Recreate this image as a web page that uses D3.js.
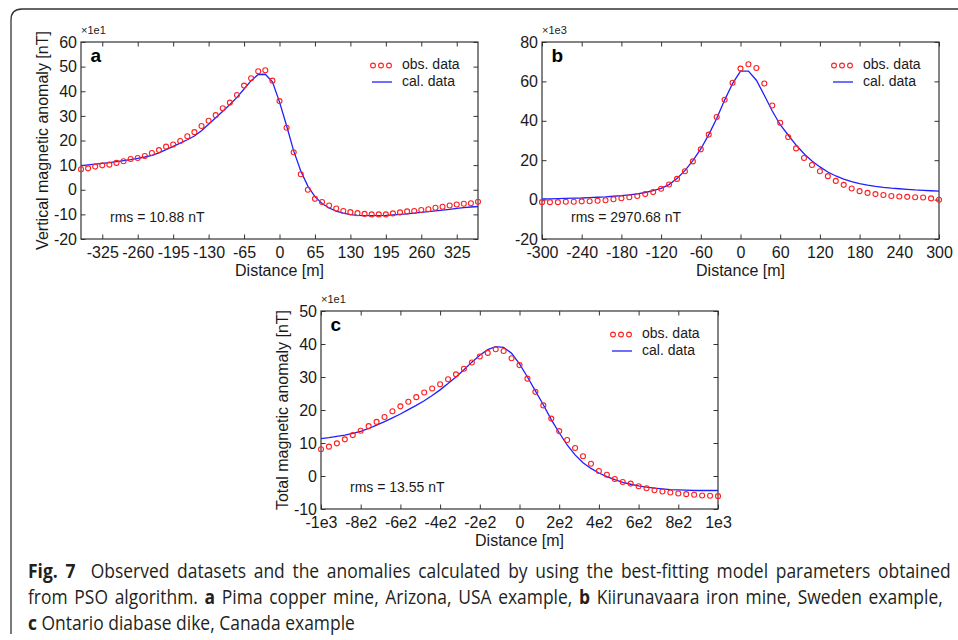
<!DOCTYPE html>
<html><head><meta charset="utf-8">
<script src="https://cdn.jsdelivr.net/npm/d3@7"></script>
<style>body{margin:0;background:#fff}svg{display:block}</style>
</head><body>
<svg id="fig" width="958" height="640"></svg>
<script>
// ---------- Panel a : Pima copper mine ----------
const aDist = [-364,-351,-338,-325,-312,-299,-286,-273,-260,-247,-234,-221,-208,-195,-182,-169,-156,-143,-130,-117,-104,-91,-78,-65,-52,-39,-26,-13,0,13,26,39,52,65,78,91,104,117,130,143,156,169,182,195,208,221,234,247,260,273,286,299,312,325,338,351,364];
const aObs = [8.3,8.7,9.4,9.9,10.2,10.9,11.6,12.5,12.9,13.7,14.9,16.1,17.5,18.4,19.8,21.7,23.4,25.9,28.0,30.3,33.1,35.4,38.5,42.3,45.3,48.1,48.5,44.3,36.0,25.2,15.2,6.3,0.0,-3.7,-5.0,-6.4,-7.6,-8.6,-9.1,-9.5,-9.8,-10.0,-10.0,-10.0,-9.6,-9.2,-8.8,-8.6,-8.2,-7.9,-7.3,-6.9,-6.4,-6.0,-5.7,-5.5,-4.9];
const aCal = [9.8,10.1,10.4,10.7,11.0,11.4,11.8,12.2,12.7,13.3,14.0,15.0,16.3,17.6,18.9,20.3,21.8,24.0,26.6,29.2,31.9,34.6,37.5,40.9,44.3,46.8,46.9,43.8,35.7,26.0,15.8,7.6,1.5,-2.8,-5.6,-7.4,-8.7,-9.5,-10.1,-10.4,-10.5,-10.5,-10.5,-10.4,-10.2,-10.0,-9.8,-9.5,-9.2,-8.9,-8.6,-8.3,-8.0,-7.6,-7.3,-7.0,-6.8];
const aXTicks = [-325,-260,-195,-130,-65,0,65,130,195,260,325];
const aXLabels = ["-325","-260","-195","-130","-65","0","65","130","195","260","325"];
const aYTicks = [-20,-10,0,10,20,30,40,50,60];
const aYLabels = ["-20","-10","0","10","20","30","40","50","60"];

// ---------- Panel b : Kiirunavaara iron mine ----------
const bDist = [-300,-288,-276,-264,-252,-240,-228,-216,-204,-192,-180,-168,-156,-144,-132,-120,-108,-96,-84,-72,-60,-48,-36,-24,-12,0,12,24,36,48,60,72,84,96,108,120,132,144,156,168,180,192,204,216,228,240,252,264,276,288,300];
const bObs = [-1.3,-1.3,-1.3,-1.1,-1.1,-0.9,-0.8,-0.6,-0.3,0.2,0.7,1.2,1.8,2.8,3.8,5.5,7.7,10.5,14.4,19.4,25.5,33.0,41.9,50.7,59.3,66.5,68.7,66.8,58.9,47.8,39.0,31.8,26.0,21.1,17.6,14.4,11.9,9.5,7.5,5.6,4.3,3.4,2.8,2.3,1.8,1.6,1.4,1.2,1.1,0.6,-0.1];
const bCal = [0.3,0.4,0.5,0.6,0.7,0.8,1.0,1.2,1.4,1.7,2.0,2.4,2.9,3.6,4.5,5.7,7.6,10.7,14.7,19.8,25.7,33.0,41.2,50.5,58.9,65.2,65.2,60.6,53.0,45.0,38.0,32.8,27.7,23.3,19.6,16.6,14.0,12.0,10.4,9.1,8.1,7.3,6.7,6.2,5.8,5.5,5.2,4.9,4.7,4.5,4.3];
const bXTicks = [-300,-240,-180,-120,-60,0,60,120,180,240,300];
const bXLabels = ["-300","-240","-180","-120","-60","0","60","120","180","240","300"];
const bYTicks = [-20,0,20,40,60,80];
const bYLabels = ["-20","0","20","40","60","80"];

// ---------- Panel c : Ontario diabase dike ----------
const cDist = [-1000,-960,-920,-880,-840,-800,-760,-720,-680,-640,-600,-560,-520,-480,-440,-400,-360,-320,-280,-240,-200,-160,-120,-80,-40,0,40,80,120,160,200,240,280,320,360,400,440,480,520,560,600,640,680,720,760,800,840,880,920,960,1000];
const cObs = [8.1,8.9,9.9,11.1,12.4,13.7,15.1,16.4,17.9,19.6,21.1,22.5,23.9,25.3,26.5,27.8,29.3,30.8,32.5,34.4,36.2,37.3,38.4,37.9,35.7,33.6,29.5,25.5,21.4,17.4,13.6,10.9,8.5,6.0,3.7,1.5,0.4,-0.9,-1.8,-2.3,-3.1,-3.7,-4.3,-4.7,-5.0,-5.3,-5.5,-5.7,-5.9,-6.0,-6.1];
const cCal = [11.3,11.6,12.0,12.4,12.9,13.5,14.4,15.4,16.5,17.6,18.8,20.1,21.4,22.8,24.4,26.1,28.0,30.0,32.2,34.5,36.6,38.3,39.2,39.0,37.2,34.0,30.0,25.8,21.6,17.1,13.1,9.4,6.4,4.0,2.3,0.9,-0.2,-1.1,-1.9,-2.5,-3.0,-3.4,-3.7,-3.9,-4.1,-4.2,-4.3,-4.4,-4.4,-4.4,-4.4];
const cXTicks = [-1000,-800,-600,-400,-200,0,200,400,600,800,1000];
const cXLabels = ["-1e3","-8e2","-6e2","-4e2","-2e2","0","2e2","4e2","6e2","8e2","1e3"];
const cYTicks = [-10,0,10,20,30,40,50];
const cYLabels = ["-10","0","10","20","30","40","50"];

const legendLabels = ["obs. data","cal. data"];

const panels = [
  {key:"a", dist:aDist, obs:aObs, cal:aCal, xDom:[-364,364], yDom:[-20,60], xT:aXTicks, xL:aXLabels, yT:aYTicks, yL:aYLabels,
   exp:"×1e1", rms:"rms = 10.88 nT", ylab:"Vertical magnetic anomaly [nT]", box:{l:81,t:42,r:478,b:239}},
  {key:"b", dist:bDist, obs:bObs, cal:bCal, xDom:[-300,300], yDom:[-20,80], xT:bXTicks, xL:bXLabels, yT:bYTicks, yL:bYLabels,
   exp:"×1e3", rms:"rms = 2970.68 nT", ylab:null, box:{l:542,t:42,r:939,b:239}},
  {key:"c", dist:cDist, obs:cObs, cal:cCal, xDom:[-1000,1000], yDom:[-10,50], xT:cXTicks, xL:cXLabels, yT:cYTicks, yL:cYLabels,
   exp:"×1e1", rms:"rms = 13.55 nT", ylab:"Total magnetic anomaly [nT]", box:{l:321,t:311,r:718,b:509}}
];

const svg = d3.select("#fig");
const FONT = "'Liberation Sans', Arial, Helvetica, sans-serif";
const INK = "#1a1a1a";
const RED = "#ff2020";
const BLUE = "#2020ff";

// outer frame
svg.append("path")
  .attr("d","M11,634 L11,20 Q11,9 22,9 L962,9")
  .attr("fill","none").attr("stroke","#333").attr("stroke-width",1.3);

panels.forEach(p => {
  const {l,t,r,b} = p.box;
  const x = d3.scaleLinear().domain(p.xDom).range([l,r]);
  const y = d3.scaleLinear().domain(p.yDom).range([b,t]);
  const g = svg.append("g");

  const styleAxis = sel => {
    sel.attr("font-family",FONT).attr("font-size",16);
    sel.select(".domain").remove();
    sel.selectAll(".tick line").attr("stroke","#333").attr("stroke-width",1);
    sel.selectAll(".tick text").attr("fill",INK);
  };

  g.append("g").attr("transform",`translate(0,${b})`)
    .call(d3.axisBottom(x).tickValues(p.xT).tickFormat((d,i)=>p.xL[i]).tickSizeInner(-4.5).tickSizeOuter(0).tickPadding(7.5))
    .call(styleAxis);
  g.append("g").attr("transform",`translate(0,${t})`)
    .call(d3.axisTop(x).tickValues(p.xT).tickFormat("").tickSizeInner(-4.5).tickSizeOuter(0))
    .call(styleAxis);
  g.append("g").attr("transform",`translate(${l},0)`)
    .call(d3.axisLeft(y).tickValues(p.yT).tickFormat((d,i)=>p.yL[i]).tickSizeInner(-4.5).tickSizeOuter(0).tickPadding(4))
    .call(styleAxis);
  g.append("g").attr("transform",`translate(${r},0)`)
    .call(d3.axisRight(y).tickValues(p.yT).tickFormat("").tickSizeInner(-4.5).tickSizeOuter(0))
    .call(styleAxis);

  g.append("rect").attr("x",l).attr("y",t).attr("width",r-l).attr("height",b-t)
    .attr("fill","none").attr("stroke","#333").attr("stroke-width",1.2);

  const line = d3.line().x((d,i)=>x(p.dist[i])).y(d=>y(d));
  g.append("path").datum(p.cal).attr("d",line)
    .attr("fill","none").attr("stroke",BLUE).attr("stroke-width",1.3);

  g.selectAll("circle.obs").data(p.obs).enter().append("circle")
    .attr("class","obs")
    .attr("cx",(d,i)=>x(p.dist[i])).attr("cy",d=>y(d)).attr("r",2.5)
    .attr("fill","none").attr("stroke",RED).attr("stroke-width",1.1);

  g.append("text").attr("x",l+9.5).attr("y",t+20).text(p.key)
    .attr("font-family",FONT).attr("font-weight","bold").attr("font-size",19).attr("fill","#000");

  g.append("text").attr("x",l).attr("y",t-8).text(p.exp)
    .attr("font-family",FONT).attr("font-size",11).attr("fill",INK);

  g.append("text").attr("x",l+29).attr("y",b-17).text(p.rms)
    .attr("font-family",FONT).attr("font-size",14).attr("fill",INK);

  [-105,-97,-89].forEach(dx => {
    g.append("circle").attr("cx",r+dx).attr("cy",t+23.5).attr("r",2.4)
      .attr("fill","none").attr("stroke",RED).attr("stroke-width",1.1);
  });
  g.append("text").attr("x",r-76).attr("y",t+27).text(legendLabels[0])
    .attr("font-family",FONT).attr("font-size",14).attr("fill",INK);
  g.append("line").attr("x1",r-106).attr("x2",r-86).attr("y1",t+40).attr("y2",t+40)
    .attr("stroke",BLUE).attr("stroke-width",1.3);
  g.append("text").attr("x",r-76).attr("y",t+44).text(legendLabels[1])
    .attr("font-family",FONT).attr("font-size",14).attr("fill",INK);

  g.append("text").attr("x",(l+r)/2).attr("y",b+37).attr("text-anchor","middle").text("Distance [m]")
    .attr("font-family",FONT).attr("font-size",16).attr("fill",INK);
  if (p.ylab) {
    g.append("text").attr("transform",`translate(${l-33},${(t+b)/2}) rotate(-90)`)
      .attr("text-anchor","middle").text(p.ylab)
      .attr("font-family",FONT).attr("font-size",16).attr("fill",INK);
  }
});

// caption (justified, narrow face emulated by horizontal scaling)
const CAP = "'Open Sans', 'Noto Sans', sans-serif";
const capLines = [
  {y:578, w:923, parts:[["Fig. 7",true],["  Observed datasets and the anomalies calculated by using the best-fitting model parameters obtained",false]]},
  {y:604, w:915, parts:[["from PSO algorithm. ",false],["a",true],[" Pima copper mine, Arizona, USA example, ",false],["b",true],[" Kiirunavaara iron mine, Sweden example,",false]]},
  {y:630, w:327, parts:[["c",true],[" Ontario diabase dike, Canada example",false]]}
];
const made = capLines.map(ln => {
  const gl = svg.append("g");
  const tx = gl.append("text").attr("x",0).attr("y",0)
    .attr("font-family",CAP).attr("font-size",20).attr("fill","#231f20").style("white-space","pre");
  ln.parts.forEach(([s,bold]) => tx.append("tspan").text(s).attr("font-weight",bold?"bold":"normal"));
  return {gl, tx, ln, nat: tx.node().getComputedTextLength()};
});
const s = made[2].ln.w / made[2].nat;   // glyph compression from the un-justified last line
made.forEach((m,k) => {
  m.gl.attr("transform",`translate(28,${m.ln.y}) scale(${s},1)`);
  if (k < 2) {
    const full = m.ln.parts.map(d=>d[0]).join("");
    const nSp = (full.match(/ /g) || []).length;
    const extra = m.ln.w / s - m.nat;
    m.tx.style("word-spacing", (extra / nSp) + "px");
    const now = m.tx.node().getComputedTextLength();
    if (Math.abs(now - m.ln.w / s) > 3) {
      m.tx.style("word-spacing", null).attr("textLength", m.ln.w / s).attr("lengthAdjust","spacing");
    }
  }
});
</script>
</body></html>
